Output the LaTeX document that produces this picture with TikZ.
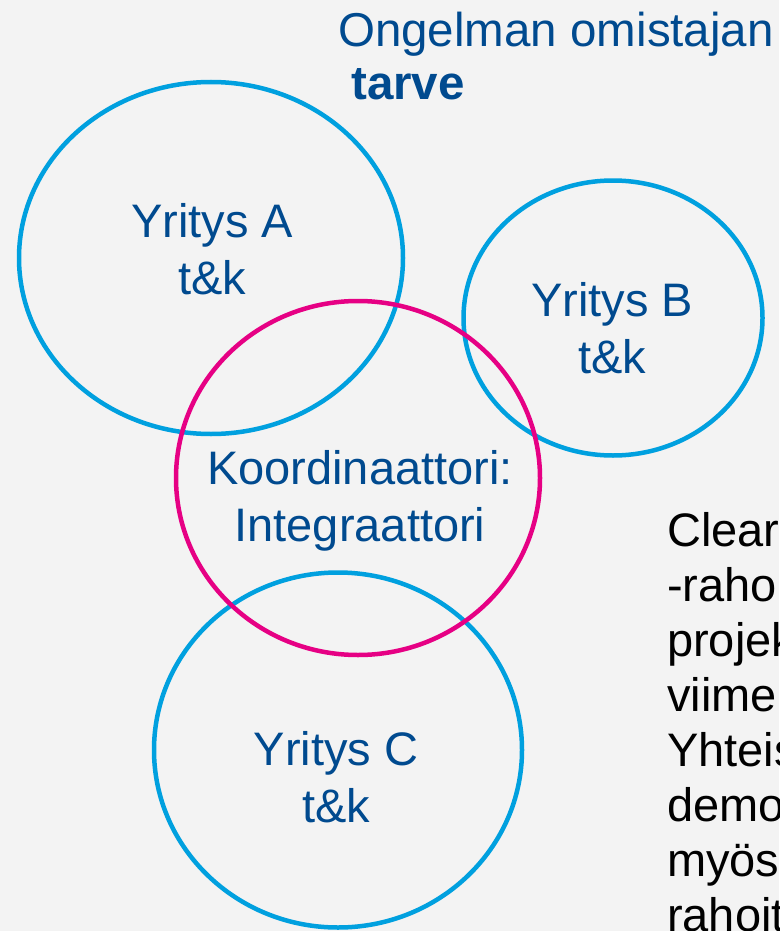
\documentclass[tikz,border=0pt]{standalone}
\usepackage{xcolor}
\usepackage{fontspec}
\setmainfont{Liberation Sans}
\usepackage{tikz}
\usetikzlibrary{shapes.geometric}
\definecolor{circleblue}{RGB}{0, 160, 223}
\definecolor{circlepink}{RGB}{230, 0, 132}
\definecolor{textblue}{RGB}{0, 74, 143}
\definecolor{bgcolor}{RGB}{243, 243, 243}

\begin{document}
\begin{tikzpicture}[
    x=1pt, y=-1pt,
    company/.style={draw=circleblue, line width=4.5pt, ellipse, inner sep=0pt},
    coordinator/.style={draw=circlepink, line width=4.5pt, ellipse, inner sep=0pt},
    circle_txt/.style={text=textblue, font=\fontsize{47}{57}\selectfont, align=center, anchor=north, inner sep=0pt},
    title_txt/.style={text=textblue, font=\fontsize{47.5}{53}\selectfont, anchor=base west, inner sep=0pt},
    side_txt/.style={text=black, font=\fontsize{47}{55}\selectfont, align=left, anchor=north west, inner sep=0pt}
]
    % Page
    \fill[bgcolor] (0, 0) rectangle (779, 931);
    \useasboundingbox (0, 0) rectangle (779, 931);
    \clip (0, 0) rectangle (779, 931);

    % Title
    \node[title_txt] (title1) at (338, 47) {Ongelman omistajan};
    \node[title_txt, font=\fontsize{47.5}{53}\selectfont\bfseries] (title2) at (351, 100) {tarve};

    % Companies
    \node[company, minimum width=384, minimum height=352] (compA) at (211, 258) {};
    \node[company, minimum width=299, minimum height=275] (compB) at (613, 318) {};
    \node[company, minimum width=368, minimum height=355] (compC) at (338, 750) {};

    % Coordinator
    \node[coordinator, minimum width=364, minimum height=354] (coord) at (358, 478) {};

    % Labels
    \node[circle_txt] (txtA) at (212, 203) {Yritys A\\t\&k};
    \node[circle_txt] (txtB) at (612, 282) {Yritys B\\t\&k};
    \node[circle_txt] (txtC) at (336, 731) {Yritys C\\t\&k};
    \node[circle_txt] (txtK) at (360, 450) {Koordinaattori:\\Integraattori};

    % Side note (cut at the page edge)
    \node[side_txt] (note) at (667, 512) {Clear\\-raho\\projek\\viime\\Yhteis\\demo\\myös\\rahoit};
\end{tikzpicture}
\end{document}
